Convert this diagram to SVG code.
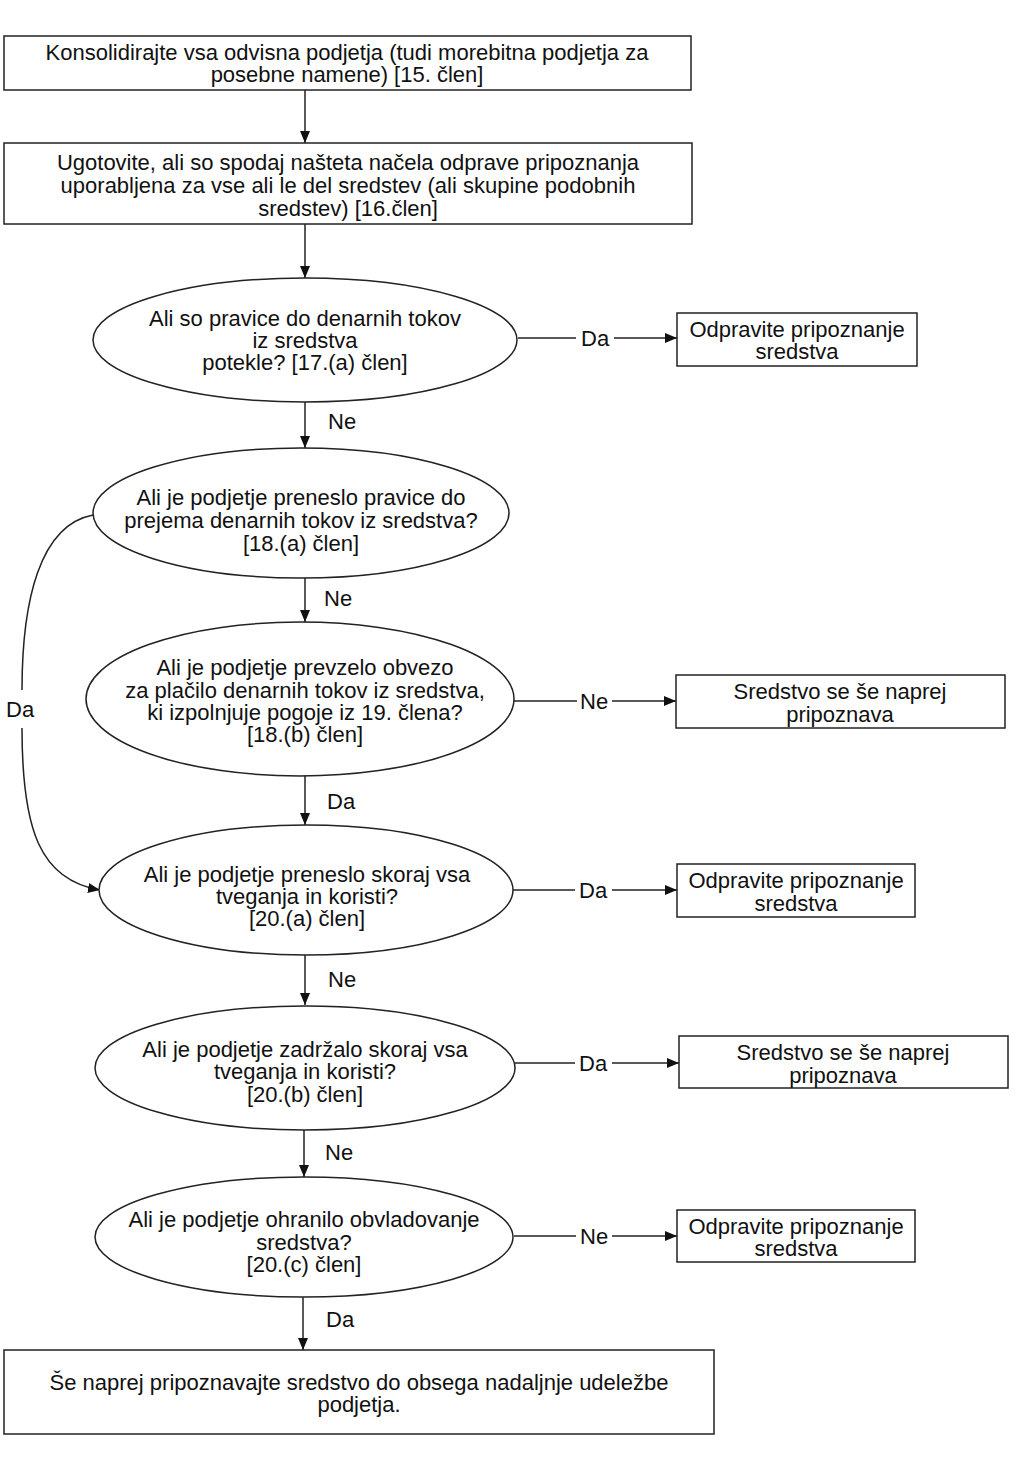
<svg xmlns="http://www.w3.org/2000/svg" width="1024" height="1457" viewBox="0 0 1024 1457">
<style>
.n{fill:#fff;stroke:#222;stroke-width:1.5}
.t{font-family:"Liberation Sans",Arial,sans-serif;font-size:22px;fill:#111;text-anchor:middle}
.l{font-family:"Liberation Sans",Arial,sans-serif;font-size:22px;fill:#111}
.c{fill:none;stroke:#222;stroke-width:1.5}
</style>
<defs>
<marker id="a" viewBox="0 0 12 10" refX="12" refY="5" markerWidth="12" markerHeight="10" markerUnits="userSpaceOnUse" orient="auto">
<path d="M0,0 L12,5 L0,10 Z" fill="#111"/>
</marker>
</defs>
<rect width="1024" height="1457" fill="#fff"/>
<g id="connectors">
<line class="c" x1="305" y1="90" x2="305" y2="143" marker-end="url(#a)"/>
<line class="c" x1="305" y1="224" x2="305" y2="278" marker-end="url(#a)"/>
<line class="c" x1="518" y1="338" x2="576" y2="338"/>
<line class="c" x1="614" y1="338" x2="677" y2="338" marker-end="url(#a)"/>
<text class="l" x="581" y="346">Da</text>
<line class="c" x1="305" y1="402" x2="305" y2="448" marker-end="url(#a)"/>
<text class="l" x="328" y="429">Ne</text>
<line class="c" x1="305" y1="578" x2="305" y2="622" marker-end="url(#a)"/>
<text class="l" x="324" y="606">Ne</text>
<line class="c" x1="514" y1="701" x2="577" y2="701"/>
<line class="c" x1="612" y1="701" x2="676" y2="701" marker-end="url(#a)"/>
<text class="l" x="580" y="709">Ne</text>
<line class="c" x1="305" y1="775" x2="305" y2="825" marker-end="url(#a)"/>
<text class="l" x="327" y="809">Da</text>
<path class="c" d="M93,515 C40,525 22,600 22,690"/>
<path class="c" d="M22,728 C22,830 40,880 100,890" marker-end="url(#a)"/>
<text class="l" x="6" y="717">Da</text>
<line class="c" x1="513" y1="890" x2="575" y2="890"/>
<line class="c" x1="612" y1="890" x2="677" y2="890" marker-end="url(#a)"/>
<text class="l" x="579" y="898">Da</text>
<line class="c" x1="305" y1="955" x2="305" y2="1005" marker-end="url(#a)"/>
<text class="l" x="328" y="987">Ne</text>
<line class="c" x1="515" y1="1063" x2="575" y2="1063"/>
<line class="c" x1="612" y1="1063" x2="679" y2="1063" marker-end="url(#a)"/>
<text class="l" x="579" y="1071">Da</text>
<line class="c" x1="304" y1="1130" x2="304" y2="1177" marker-end="url(#a)"/>
<text class="l" x="325" y="1160">Ne</text>
<line class="c" x1="514" y1="1236" x2="576" y2="1236"/>
<line class="c" x1="612" y1="1236" x2="677" y2="1236" marker-end="url(#a)"/>
<text class="l" x="580" y="1244">Ne</text>
<line class="c" x1="303" y1="1297" x2="303" y2="1350" marker-end="url(#a)"/>
<text class="l" x="326" y="1327">Da</text>
</g>
<g id="n1">
<rect class="n" x="4" y="36" width="687" height="54"/>
<text class="t" x="347" y="60">Konsolidirajte vsa odvisna podjetja (tudi morebitna podjetja za<tspan x="347" dy="22">posebne namene) [15. člen]</tspan></text>
</g>
<g id="n2">
<rect class="n" x="4" y="143" width="688" height="81"/>
<text class="t" x="348" y="170">Ugotovite, ali so spodaj našteta načela odprave pripoznanja<tspan x="348" dy="23">uporabljena za vse ali le del sredstev (ali skupine podobnih</tspan><tspan x="348" dy="23">sredstev) [16.člen]</tspan></text>
</g>
<g id="e1">
<ellipse class="n" cx="305" cy="340" rx="212" ry="62"/>
<text class="t" x="305" y="326">Ali so pravice do denarnih tokov<tspan x="305" dy="22">iz sredstva</tspan><tspan x="305" dy="22">potekle? [17.(a) člen]</tspan></text>
</g>
<g id="r1">
<rect class="n" x="677" y="313" width="240" height="53"/>
<text class="t" x="797" y="337">Odpravite pripoznanje<tspan x="797" dy="22">sredstva</tspan></text>
</g>
<g id="e2">
<ellipse class="n" cx="301" cy="513" rx="208" ry="65"/>
<text class="t" x="301" y="505">Ali je podjetje preneslo pravice do<tspan x="301" dy="23">prejema denarnih tokov iz sredstva?</tspan><tspan x="301" dy="23">[18.(a) člen]</tspan></text>
</g>
<g id="e3">
<ellipse class="n" cx="300" cy="699" rx="214" ry="77"/>
<text class="t" x="305" y="675">Ali je podjetje prevzelo obvezo<tspan x="305" dy="23">za plačilo denarnih tokov iz sredstva,</tspan><tspan x="305" dy="22">ki izpolnjuje pogoje iz 19. člena?</tspan><tspan x="305" dy="22">[18.(b) člen]</tspan></text>
</g>
<g id="r2">
<rect class="n" x="676" y="675" width="329" height="53"/>
<text class="t" x="840" y="699">Sredstvo se še naprej<tspan x="840" dy="23">pripoznava</tspan></text>
</g>
<g id="e4">
<ellipse class="n" cx="306" cy="890" rx="207" ry="65"/>
<text class="t" x="307" y="882">Ali je podjetje preneslo skoraj vsa<tspan x="307" dy="22">tveganja in koristi?</tspan><tspan x="307" dy="22">[20.(a) člen]</tspan></text>
</g>
<g id="r3">
<rect class="n" x="677" y="864" width="238" height="53"/>
<text class="t" x="796" y="888">Odpravite pripoznanje<tspan x="796" dy="23">sredstva</tspan></text>
</g>
<g id="e5">
<ellipse class="n" cx="305" cy="1068" rx="210" ry="62"/>
<text class="t" x="305" y="1057">Ali je podjetje zadržalo skoraj vsa<tspan x="305" dy="22">tveganja in koristi?</tspan><tspan x="305" dy="23">[20.(b) člen]</tspan></text>
</g>
<g id="r4">
<rect class="n" x="679" y="1036" width="329" height="52"/>
<text class="t" x="843" y="1060">Sredstvo se še naprej<tspan x="843" dy="23">pripoznava</tspan></text>
</g>
<g id="e6">
<ellipse class="n" cx="304" cy="1237" rx="209" ry="60"/>
<text class="t" x="304" y="1227">Ali je podjetje ohranilo obvladovanje<tspan x="304" dy="23">sredstva?</tspan><tspan x="304" dy="22">[20.(c) člen]</tspan></text>
</g>
<g id="r5">
<rect class="n" x="677" y="1210" width="238" height="52"/>
<text class="t" x="796" y="1234">Odpravite pripoznanje<tspan x="796" dy="22">sredstva</tspan></text>
</g>
<g id="n3">
<rect class="n" x="4" y="1350" width="710" height="84"/>
<text class="t" x="359" y="1390">Še naprej pripoznavajte sredstvo do obsega nadaljnje udeležbe<tspan x="359" dy="22">podjetja.</tspan></text>
</g>
</svg>
